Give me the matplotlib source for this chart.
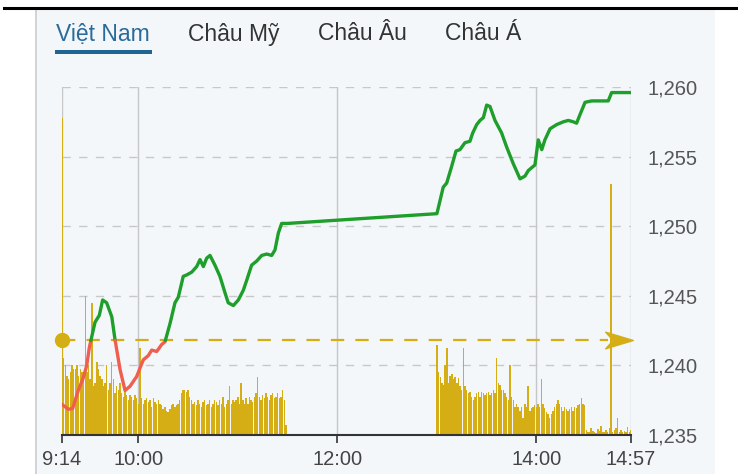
import numpy as np
import matplotlib
matplotlib.use("Agg")
import matplotlib.pyplot as plt
from matplotlib.patches import Rectangle
from matplotlib.path import Path

plt.rcParams['font.family'] = ['Liberation Sans', 'DejaVu Sans']

# ---------------- data ----------------
tabs = ["Việt Nam", "Châu Mỹ", "Châu Âu", "Châu Á"]
ref_price = 1241.8

# time in minutes since 09:14
price_t = [0, 3.8, 6.4, 9.8, 12.8, 14.9, 16.5, 19.9, 22.5, 24.5, 26.9, 30.0, 31.9, 35.0,
           38.0, 41.0, 45.0, 49.0, 52.0, 54.1, 57.1, 60.1, 62.1, 65.1, 68.1, 70.1, 73.1,
           75.2, 78.2, 81.2, 83.2, 85.2, 87.2, 89.2, 92.2, 95.2, 98.3, 100.2, 103.3, 106.3,
           109.3, 111.3, 114.3, 117.4, 120.4, 123.4, 126.4, 128.4, 130.4, 132.4, 136,
           226, 229.8, 231.9, 234.9, 237.5, 239.9, 242.9, 245.9, 247.6, 250.0, 252.0, 254.0,
           256.0, 258.0, 261.0, 265.0, 268.0, 272.0, 276.1, 279.1, 281.1, 285.1, 287.1,
           289.2, 291.1, 294.2, 298.2, 302.2, 305.2, 308.2, 310.2, 312.2, 315.3, 319.3,
           329.3, 331.3, 343]
price_v = [1237.2, 1236.85, 1236.9, 1238.2, 1239.1, 1240.0, 1241.3, 1243.1, 1243.6, 1244.7,
           1244.5, 1243.5, 1241.9, 1239.7, 1238.2, 1238.5, 1239.2, 1240.4, 1240.7, 1241.1,
           1241.0, 1241.5, 1241.7, 1243.0, 1244.5, 1244.9, 1246.4, 1246.5, 1246.7, 1247.1,
           1247.6, 1247.1, 1247.7, 1247.9, 1247.2, 1246.4, 1245.2, 1244.5, 1244.3, 1244.7,
           1245.4, 1246.1, 1247.2, 1247.5, 1247.9, 1248.0, 1247.9, 1248.3, 1249.5, 1250.2,
           1250.2,
           1250.9, 1252.8, 1253.1, 1254.3, 1255.4, 1255.5, 1256.0, 1256.1, 1256.7, 1257.3,
           1257.6, 1257.8, 1258.7, 1258.6, 1257.6, 1256.7, 1255.7, 1254.5, 1253.4, 1253.6,
           1254.0, 1254.4, 1256.2, 1255.5, 1256.2, 1257.0, 1257.3, 1257.5, 1257.6, 1257.5,
           1257.4, 1258.0, 1258.9, 1259.0, 1259.0, 1259.6, 1259.6]

# volume (relative units, 100 = chart top), one bar per minute
vol_morning = [91,
               22, 20, 17, 16, 18, 20, 19, 19, 20, 17, 19, 18, 16, 40, 18, 20, 16, 38, 14,
               15, 21, 19, 17, 16, 14, 15, 20, 13, 15, 21, 16, 12, 14, 13, 15, 12, 11, 13.5,
               11.5, 10, 11.5, 11, 10, 11.5, 10.6, 9, 25, 10.6, 9, 10, 10.6, 9.5, 10, 8, 10.6,
               9.5, 9, 10, 9, 8.6, 7.5, 8, 7, 6.6, 7.5, 8.6, 9, 8, 8.5,
               9, 10, 12, 13, 13, 12.5, 13, 11, 10, 9,
               9.5, 8.5, 10, 9, 8, 9.5, 10, 8.5, 9, 10,
               8, 9, 10, 9.5, 8.5, 10, 9, 11, 8, 9,
               10, 14, 9, 10, 9.5, 10, 11, 9, 15, 10,
               9, 10.5, 9, 11, 10, 9.5, 11, 12, 16.7, 11,
               10, 11.5, 10.5, 12, 11, 10, 11.5, 12, 10.5, 11,
               12, 10.5, 11, 13, 10, 3]
vol_afternoon = [26, 18, 16.7, 15, 14.4, 20, 25, 15, 17, 17.5,
                 16, 16.7, 15, 16.4, 14, 13, 25, 14, 13, 12,
                 12.4, 11, 10, 11, 12, 12.5, 11, 12.4, 12, 11.5,
                 12, 12.5, 11.5, 12, 13, 12, 22, 15, 14.4, 13,
                 13, 12, 11, 10, 20, 11, 10, 8, 9, 8,
                 7, 8, 5, 9, 8, 14, 7, 7.8, 8, 8.6,
                 8, 9, 8, 16, 9, 7.8, 6.5, 6, 5, 6,
                 7, 8, 9, 10, 9, 8, 7, 8, 7.5, 7,
                 7.5, 8, 7, 8, 7.8, 8.5, 9, 10.6, 9, 8.6]
vol_late = [1.5, 1, 0.8, 2, 1.2, 1, 0.5, 1.8, 1.2, 2.5, 1, 0.8, 1.5, 1, 2, 72,
            1, 1.5, 2, 5, 1, 1.5, 0.8, 1.2, 1, 2.3, 1, 1.5]

tick_pos = [0, 46, 166, 286, 343]
tick_lab = ["9:14", "10:00", "12:00", "14:00", "14:57"]
yticks = [1235, 1240, 1245, 1250, 1255, 1260]

# ---------------- figure ----------------
W, H = 738, 474
fig = plt.figure(figsize=(W / 100, H / 100), dpi=100)
fig.patch.set_facecolor("white")

def fx(px):
    return px / W

def fy(py):
    return 1 - py / H

# panel background
fig.patches.append(Rectangle((fx(36), 0), fx(715 - 36), fy(8), transform=fig.transFigure,
                             facecolor="#f4f7fa", edgecolor="none", zorder=-5))
fig.lines.append(plt.Line2D([fx(36), fx(36)], [0, fy(9)], transform=fig.transFigure,
                            color="#c9ccd0", lw=1.2, zorder=-4))
fig.lines.append(plt.Line2D([fx(4), fx(736)], [fy(8), fy(8)], transform=fig.transFigure,
                            color="black", lw=2.2, zorder=-4))

# tabs
tab_x = [103, 234, 362, 483]
for i, (t, x) in enumerate(zip(tabs, tab_x)):
    fig.text(fx(x), fy(34), t, ha="center", va="center", fontsize=16.5,
             color="#2a6b99" if i == 0 else "#333333")
fig.patches.append(Rectangle((fx(55), fy(54)), fx(97), 4 / H, transform=fig.transFigure,
                             facecolor="#1f6493", edgecolor="none", zorder=-3))

rect = [fx(62), fy(435), fx(631 - 62), (435 - 87) / H]
axv = fig.add_axes(rect)
ax = fig.add_axes(rect)
for a in (axv, ax):
    a.set_facecolor("none")
    for s in a.spines.values():
        s.set_visible(False)

# grid (under the volume bars)
axv.set_xlim(0, 343)
axv.set_ylim(0, 100)
for yv in yticks[1:]:
    axv.axhline((yv - 1235) * 4, color="#c8c8c8", lw=1, dashes=(6, 6), zorder=0)
for xv in tick_pos:
    axv.axvline(xv, color="#c6c6c6", lw=1, zorder=0)

# volume
gold = "#d4ae14"
xm = np.arange(len(vol_morning))
xa = 226 + np.arange(len(vol_afternoon))
xl = 316 + np.arange(len(vol_late))
for xs, vs in ((xm, vol_morning), (xa, vol_afternoon), (xl, vol_late)):
    axv.bar(xs, vs, width=0.85, color=gold, align="center", linewidth=0, zorder=2)
axv.set_xticks([])
axv.set_yticks([])

ax.set_xlim(0, 343)
ax.set_ylim(1235, 1260)

# reference line
ax.plot([0, 329], [ref_price, ref_price], color=gold, lw=1.6, dashes=(6, 5), zorder=2)
ax.plot([0], [ref_price], marker="o", ms=10, color=gold, clip_on=False, zorder=5)
arrow = Path([(-1, 0.6), (1, 0), (-1, -0.6), (-0.45, 0), (-1, 0.6)],
             [Path.MOVETO, Path.LINETO, Path.LINETO, Path.LINETO, Path.CLOSEPOLY])
ax.plot([336], [ref_price], marker=arrow, ms=20, color=gold, clip_on=False, zorder=5)

# price line split above / below reference
def segments(x, y, ref):
    out = []
    cx, cy = [x[0]], [y[0]]
    above = y[0] >= ref
    for i in range(1, len(x)):
        now = y[i] >= ref
        if now != above:
            t = (ref - y[i - 1]) / (y[i] - y[i - 1])
            xc = x[i - 1] + t * (x[i] - x[i - 1])
            cx.append(xc); cy.append(ref)
            out.append((above, cx, cy))
            cx, cy = [xc], [ref]
            above = now
        cx.append(x[i]); cy.append(y[i])
    out.append((above, cx, cy))
    return out

for up, sx, sy in segments(price_t, price_v, ref_price):
    ax.plot(sx, sy, color="#1e9e2a" if up else "#ef5e4e", lw=2.4, zorder=4,
            solid_joinstyle="round", solid_capstyle="round")

# axes decorations
ax.axhline(1235, color="#333333", lw=1.5, zorder=6, clip_on=False)
ax.set_xticks(tick_pos)
ax.set_xticklabels(tick_lab)
ax.tick_params(axis="x", length=6, width=1.2, color="#333333", pad=5,
               labelsize=14.5, labelcolor="#444444")
ax.yaxis.tick_right()
ax.set_yticks(yticks)
ax.set_yticklabels([f"{v:,}" for v in yticks])
ax.tick_params(axis="y", length=0, pad=12, labelsize=14.5, labelcolor="#555555")

fig.savefig("out.png", dpi=100, facecolor="white")
